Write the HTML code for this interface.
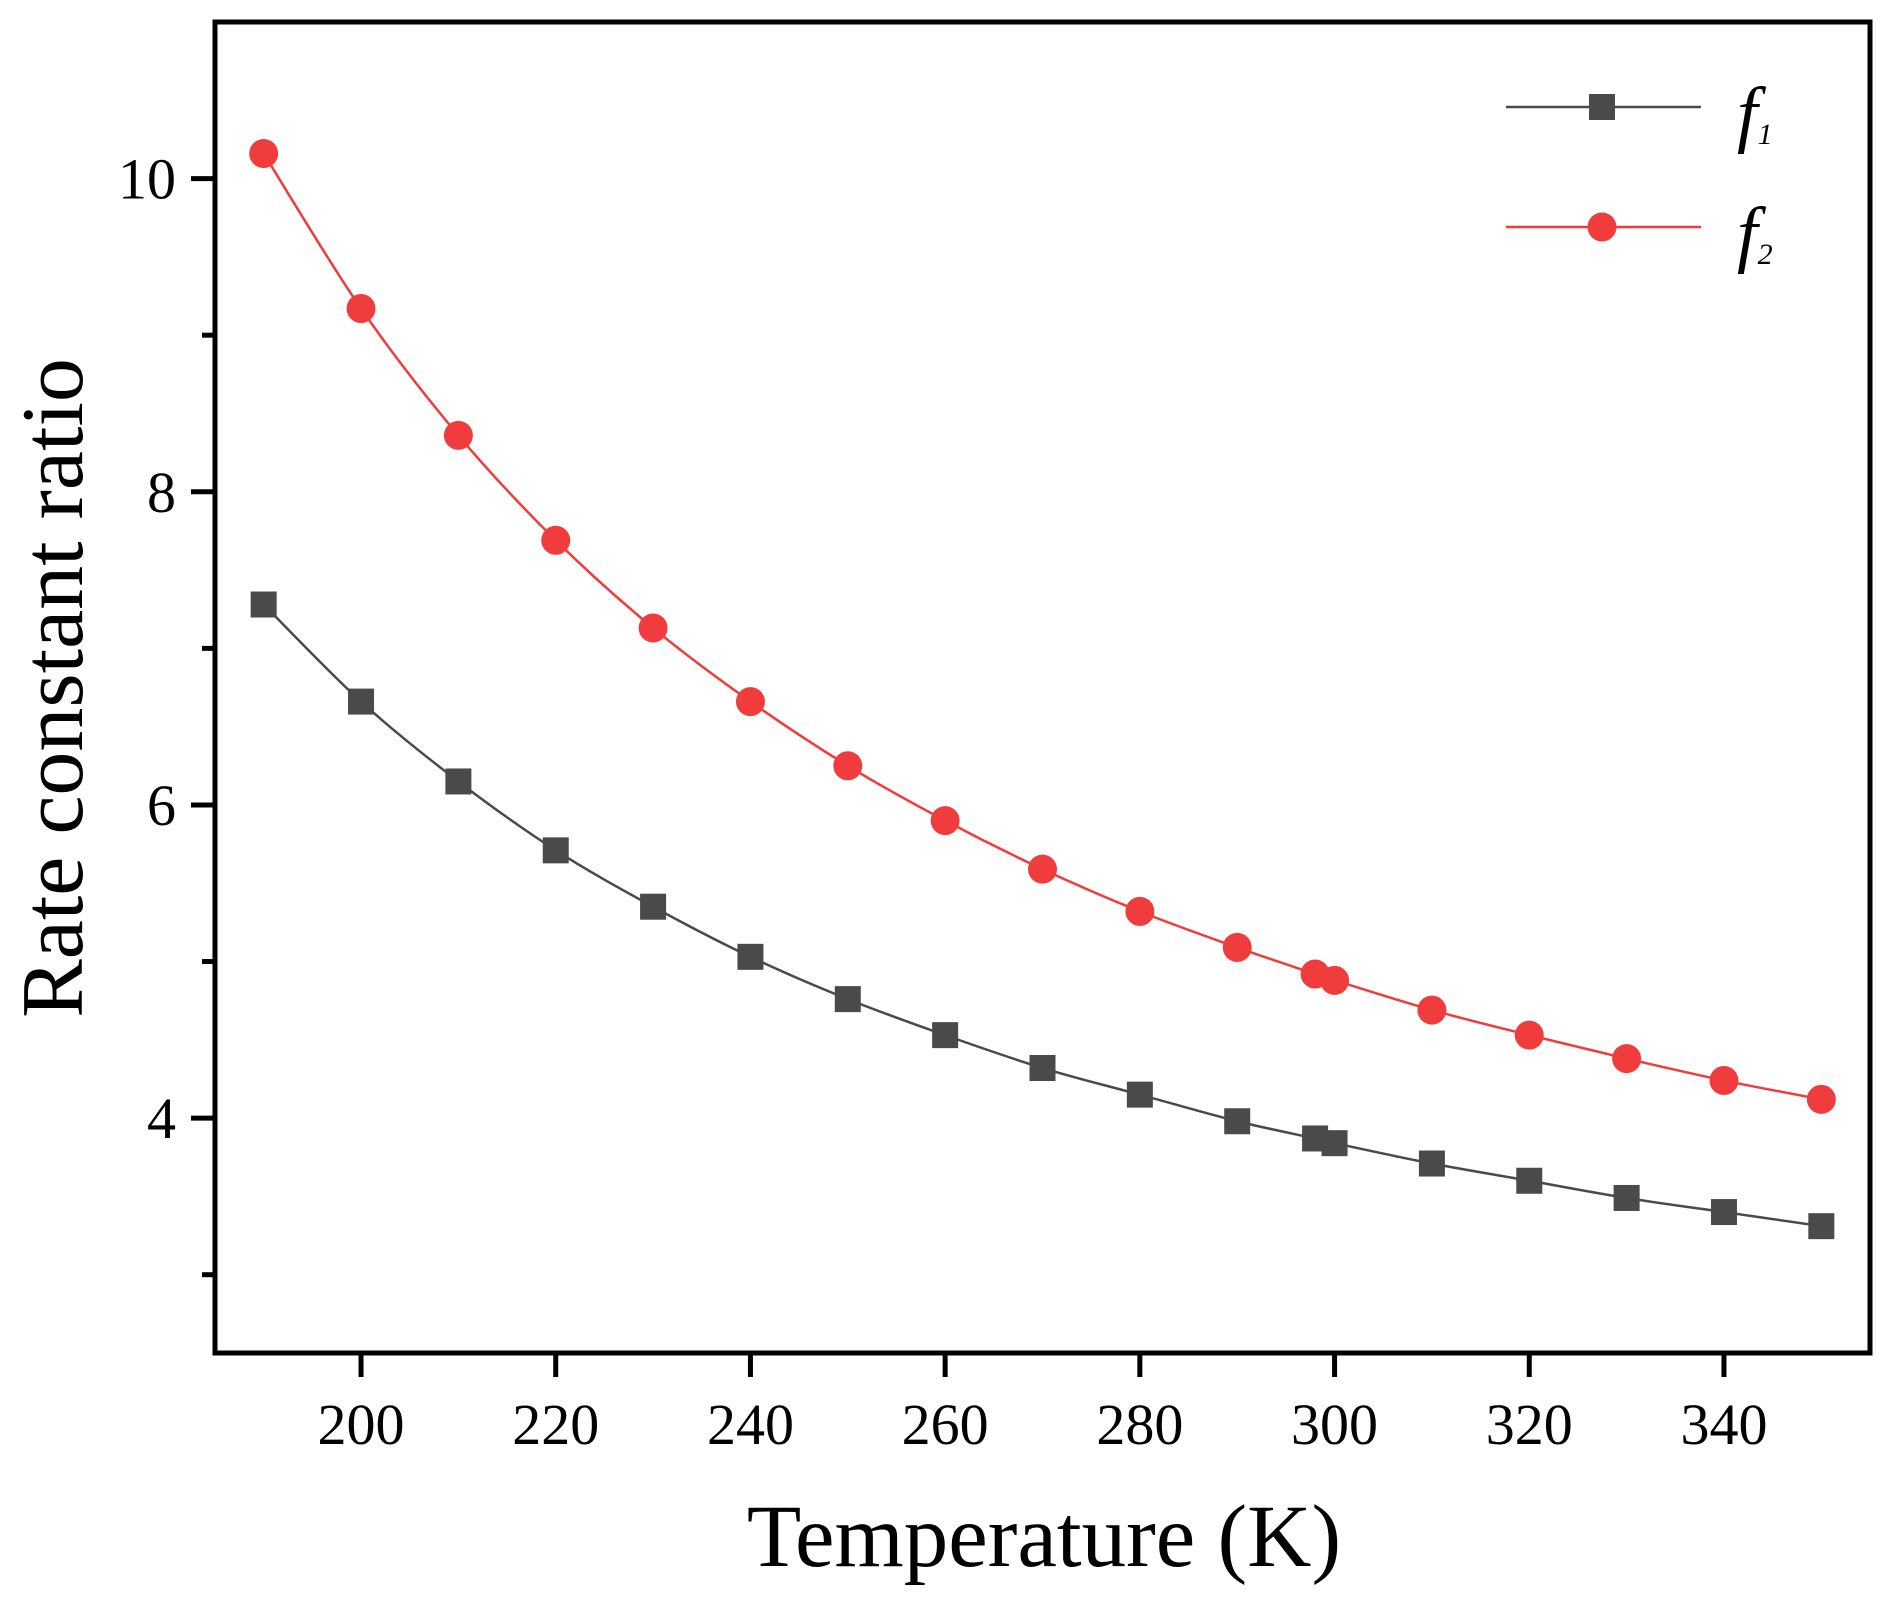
<!DOCTYPE html>
<html><head><meta charset="utf-8"><style>
html,body{margin:0;padding:0;background:#fff}
svg{display:block}
text{font-family:"Liberation Serif",serif;fill:#000}
</style></head><body>
<svg id="chart" width="1892" height="1605" viewBox="0 0 1892 1605" xmlns="http://www.w3.org/2000/svg">
<g id="grid-layer"></g>
<g id="series-layer"></g>
<g>
  <line x1="1506" y1="107" x2="1701" y2="107" stroke="#4a4a4a" stroke-width="2.5"/>
  <rect x="1589" y="94" width="26" height="26" fill="#4a4a4a"/>
  <text x="1737" y="138" font-size="74" font-style="italic">f<tspan font-size="30" dy="6">1</tspan></text>
  <line x1="1506" y1="227" x2="1701" y2="227" stroke="#f03c3c" stroke-width="2.5"/>
  <circle cx="1602" cy="227" r="14.5" fill="#f03c3c"/>
  <text x="1737" y="258" font-size="74" font-style="italic">f<tspan font-size="30" dy="6">2</tspan></text>
</g>
<text x="1044" y="1566" font-size="89" text-anchor="middle">Temperature (K)</text>
<text transform="translate(82,688) rotate(-90)" font-size="88" text-anchor="middle">Rate constant ratio</text>
</svg>
<script>
const temps = [190,200,210,220,230,240,250,260,270,280,290,298,300,310,320,330,340,350];
const f1 = [7.28,6.66,6.15,5.71,5.35,5.03,4.76,4.53,4.32,4.15,3.98,3.87,3.84,3.71,3.60,3.49,3.40,3.31];
const f2 = [10.16,9.17,8.36,7.69,7.13,6.66,6.25,5.90,5.59,5.32,5.09,4.92,4.88,4.69,4.53,4.38,4.24,4.12];
const xTicks = [200,220,240,260,280,300,320,340];
const yTicks = [4,6,8,10];
const yMinorTicks = [3,5,7,9];

const NS = "http://www.w3.org/2000/svg";
const L=215,R=1870,T=22,B=1353;
const xMin=185,xMax=355,yMin=2.5,yMax=11;
const X=v=>L+(v-xMin)/(xMax-xMin)*(R-L);
const Y=v=>B-(v-yMin)/(yMax-yMin)*(B-T);
function mk(tag,attrs,parent){const e=document.createElementNS(NS,tag);for(const k in attrs)e.setAttribute(k,attrs[k]);parent.appendChild(e);return e;}
const ax=document.getElementById('grid-layer');
const frame=mk('rect',{x:L,y:T,width:R-L,height:B-T,fill:'none',stroke:'#000','stroke-width':5},ax);


xTicks.forEach(t=>{
  const ln=mk('line',{x1:X(t),x2:X(t),y1:B,y2:B+24,stroke:'#000','stroke-width':5},ax);
  
  
  const tx=mk('text',{x:X(t),y:1444,'font-size':58,'text-anchor':'middle'},ax);
  tx.textContent=t;
  
  
});
yTicks.forEach(t=>{
  const ln=mk('line',{x1:L-24,x2:L,y1:Y(t),y2:Y(t),stroke:'#000','stroke-width':5},ax);
  
  
  const tx=mk('text',{x:176,y:Y(t)+20,'font-size':58,'text-anchor':'end'},ax);
  tx.textContent=t;
  
  
});
yMinorTicks.forEach(t=>{
  const ln=mk('line',{x1:L-13,x2:L,y1:Y(t),y2:Y(t),stroke:'#000','stroke-width':5},ax);
  
  
});
function smooth(xs,ys){
  const p=xs.map((x,i)=>[X(x),Y(ys[i])]);
  let d=`M${p[0][0]},${p[0][1]}`;
  for(let i=0;i<p.length-1;i++){
    const p0=p[Math.max(0,i-1)],p1=p[i],p2=p[i+1],p3=p[Math.min(p.length-1,i+2)];
    const c1=[p1[0]+(p2[0]-p0[0])/6,p1[1]+(p2[1]-p0[1])/6];
    const c2=[p2[0]-(p3[0]-p1[0])/6,p2[1]-(p3[1]-p1[1])/6];
    d+=` C${c1[0]},${c1[1]} ${c2[0]},${c2[1]} ${p2[0]},${p2[1]}`;
  }
  return d;
}
const sl=document.getElementById('series-layer');
const l1=mk('path',{d:smooth(temps,f1),fill:'none',stroke:'#4a4a4a','stroke-width':2.5},sl);


const l2=mk('path',{d:smooth(temps,f2),fill:'none',stroke:'#f03c3c','stroke-width':2.5},sl);


temps.forEach((t,i)=>{
  const s=mk('rect',{x:X(t)-13,y:Y(f1[i])-13,width:26,height:26,fill:'#4a4a4a'},sl);
  
  
  const c=mk('circle',{cx:X(t),cy:Y(f2[i]),r:14.5,fill:'#f03c3c'},sl);
  
  
});
</script>
</body></html>
